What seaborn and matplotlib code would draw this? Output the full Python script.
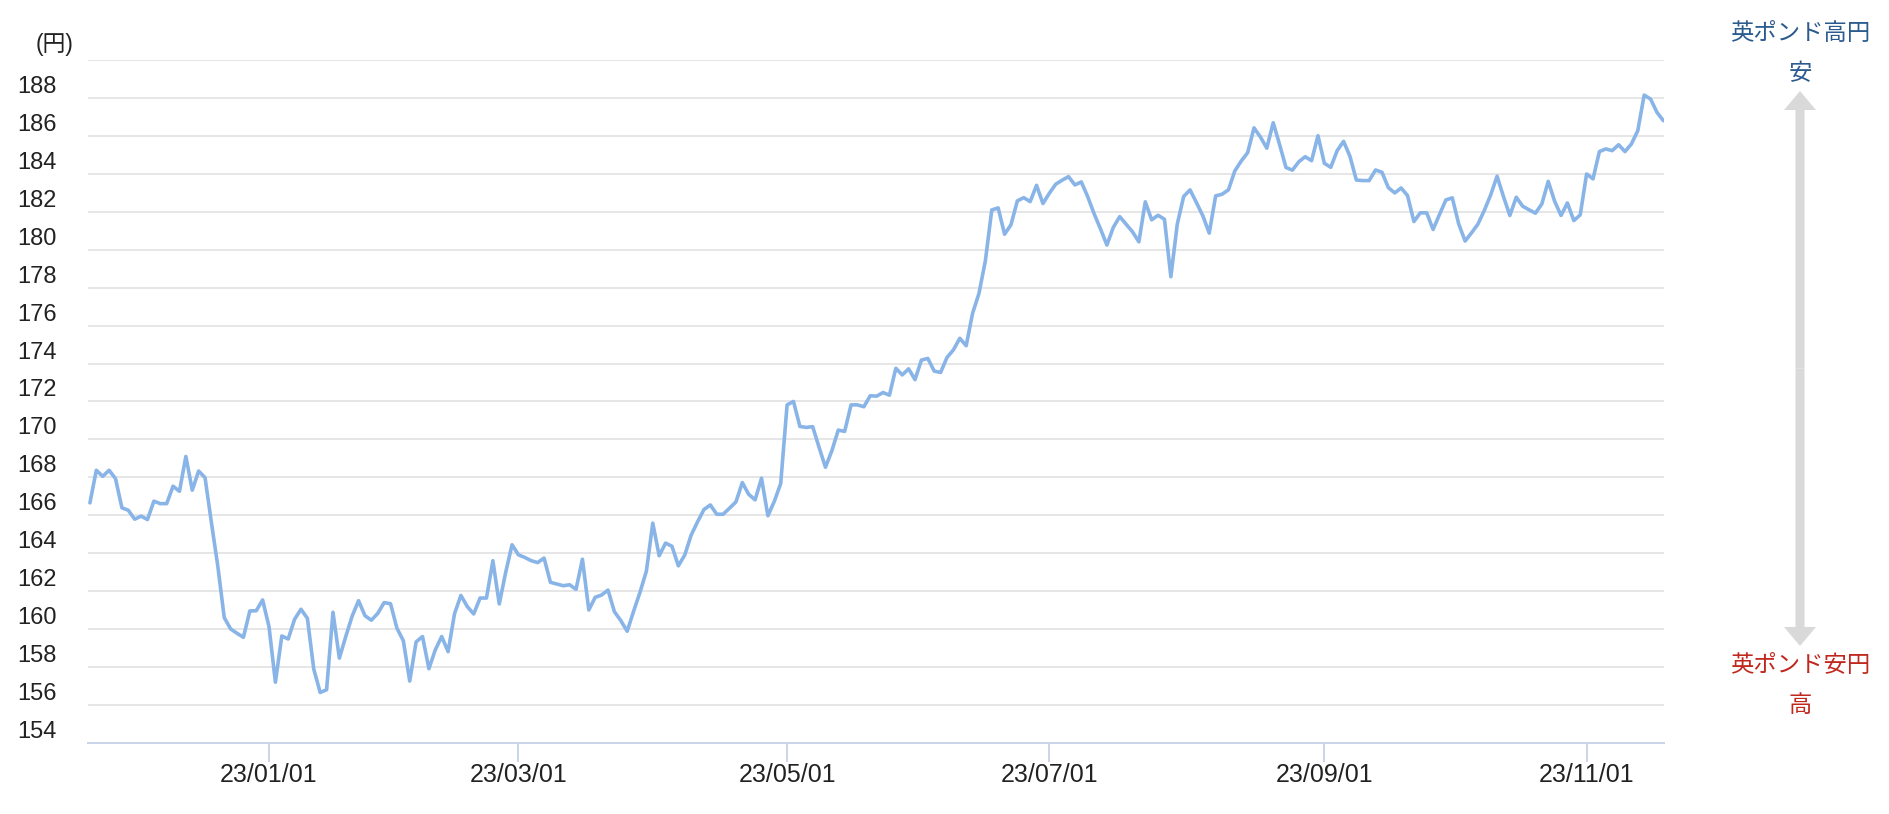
import matplotlib
matplotlib.use("Agg")
import matplotlib.pyplot as plt
import seaborn as sns
import pandas as pd

# GBP/JPY, one value per business day (Nov 2022 - Nov 2023)
rates = [
    166.65, 168.37, 168.05, 168.37, 167.93, 166.39, 166.26, 165.79, 165.95, 165.77,
    166.74, 166.61, 166.61, 167.53, 167.26, 169.10, 167.32, 168.33, 167.98, 165.60,
    163.30, 160.60, 160.00, 159.77, 159.56, 160.95, 160.96, 161.53, 160.12, 157.19,
    159.63, 159.47, 160.51, 161.04, 160.56, 157.88, 156.65, 156.79, 160.88, 158.46,
    159.60, 160.68, 161.49, 160.70, 160.46, 160.82, 161.39, 161.33, 160.04, 159.38,
    157.25, 159.32, 159.60, 157.90, 158.90, 159.60, 158.80, 160.80, 161.77, 161.18,
    160.79, 161.63, 161.63, 163.60, 161.32, 162.98, 164.44, 163.91, 163.77, 163.60,
    163.50, 163.74, 162.46, 162.37, 162.28, 162.33, 162.09, 163.68, 161.00, 161.67,
    161.79, 162.05, 160.91, 160.44, 159.88, 160.93, 161.93, 163.05, 165.58, 163.86,
    164.53, 164.36, 163.33, 163.90, 164.95, 165.65, 166.30, 166.54, 166.05, 166.05,
    166.37, 166.70, 167.72, 167.10, 166.81, 167.95, 165.97, 166.73, 167.67, 171.82,
    172.00, 170.68, 170.63, 170.67, 169.58, 168.53, 169.40, 170.49, 170.42, 171.82,
    171.82, 171.72, 172.30, 172.28, 172.47, 172.33, 173.75, 173.40, 173.72, 173.15,
    174.18, 174.27, 173.60, 173.53, 174.32, 174.72, 175.33, 174.94, 176.65, 177.70,
    179.42, 182.10, 182.21, 180.82, 181.32, 182.58, 182.75, 182.54, 183.40, 182.44,
    182.98, 183.46, 183.67, 183.86, 183.42, 183.58, 182.80, 181.90, 181.10, 180.25,
    181.18, 181.75, 181.35, 180.95, 180.42, 182.53, 181.58, 181.82, 181.61, 178.58,
    181.35, 182.81, 183.16, 182.49, 181.79, 180.88, 182.84, 182.93, 183.16, 184.16,
    184.68, 185.12, 186.43, 185.95, 185.36, 186.70, 185.55, 184.34, 184.20, 184.64,
    184.91, 184.70, 186.02, 184.56, 184.35, 185.23, 185.72, 184.93, 183.68, 183.65,
    183.65, 184.21, 184.09, 183.28, 183.00, 183.26, 182.86, 181.49, 181.95, 181.95,
    181.07, 181.86, 182.63, 182.74, 181.37, 180.46, 180.89, 181.35, 182.07, 182.89,
    183.88, 182.81, 181.81, 182.77, 182.30, 182.11, 181.93, 182.42, 183.61, 182.56,
    181.81, 182.47, 181.54, 181.84, 184.00, 183.74, 185.18, 185.32, 185.23, 185.54,
    185.18, 185.58, 186.28, 188.16, 187.95, 187.25, 186.81,
]

# first business day of each labelled month (index into rates)
tick_idx = [28, 67, 109, 150, 193, 234]
tick_labels = ["23/01/01", "23/03/01", "23/05/01", "23/07/01", "23/09/01", "23/11/01"]

y_ticks = list(range(154, 191, 2))

upper_label = ["英ポンド高円", "安"]
lower_label = ["英ポンド安円", "高"]

df = pd.DataFrame({"day": range(len(rates)), "rate": rates})

# Chart style
sns.set_theme(style="white")
plt.rcParams["font.family"] = ["Liberation Sans", "Noto Sans CJK JP", "DejaVu Sans"]
plt.rcParams["ytick.alignment"] = "bottom"

W, H = 1890, 814
fig = plt.figure(figsize=(W / 100, H / 100), dpi=100)
ax = fig.add_axes([88 / W, 71.3 / H, 1576 / W, 682.5 / H])

sns.lineplot(data=df, x="day", y="rate", ax=ax, color="#88b4e7", linewidth=2.6)
ax.lines[0].set_solid_joinstyle("round")

ax.set_xlim(-0.3, len(rates) - 0.9)
ax.set_ylim(y_ticks[0], y_ticks[-1])
ax.set_xlabel("")
ax.set_ylabel("")

ax.set_xticks(tick_idx)
ax.set_xticklabels(tick_labels)
ax.set_yticks(y_ticks)
ax.set_yticklabels([str(v) if v < y_ticks[-1] else "" for v in y_ticks])

ax.set_axisbelow(True)
ax.grid(axis="y", color="#e6e6e6", linewidth=1.44)
ax.grid(axis="x", visible=False)

for side in ["top", "right", "left"]:
    ax.spines[side].set_visible(False)
ax.spines["bottom"].set_color("#ccd6eb")
ax.spines["bottom"].set_linewidth(1.44)

ax.tick_params(axis="y", length=0, pad=22.3, labelsize=17, labelcolor="#222222")
ax.tick_params(axis="x", bottom=True, length=13.7, width=1.44, color="#ccd6eb",
               direction="out", pad=1, labelsize=18, labelcolor="#222222")

# unit label
fig.text(55 / W, 1 - 45 / H, "(円)", ha="center", va="center",
         fontsize=16.5, color="#222222")

# direction guide on the right
cx = 1800 / W
fig.text(cx, 1 - 33 / H, upper_label[0], ha="center", va="center", fontsize=16.8, color="#2a5a8e")
fig.text(cx, 1 - 74 / H, upper_label[1], ha="center", va="center", fontsize=16.8, color="#2a5a8e")
fig.text(cx, 1 - 666 / H, lower_label[0], ha="center", va="center", fontsize=16.8, color="#c0281e")
fig.text(cx, 1 - 705 / H, lower_label[1], ha="center", va="center", fontsize=16.8, color="#c0281e")

arrow = dict(arrowstyle="simple,head_length=13.7,head_width=23,tail_width=6.5",
             mutation_scale=1, color="#d9d9d9", lw=0, shrinkA=0, shrinkB=0)
mid = (H - 91 + H - 646) / 2
ax.annotate("", xy=(1800, H - 91), xytext=(1800, mid),
            xycoords="figure pixels", textcoords="figure pixels", arrowprops=arrow)
ax.annotate("", xy=(1800, H - 646), xytext=(1800, mid),
            xycoords="figure pixels", textcoords="figure pixels", arrowprops=arrow)

fig.savefig("out.png", dpi=100)
